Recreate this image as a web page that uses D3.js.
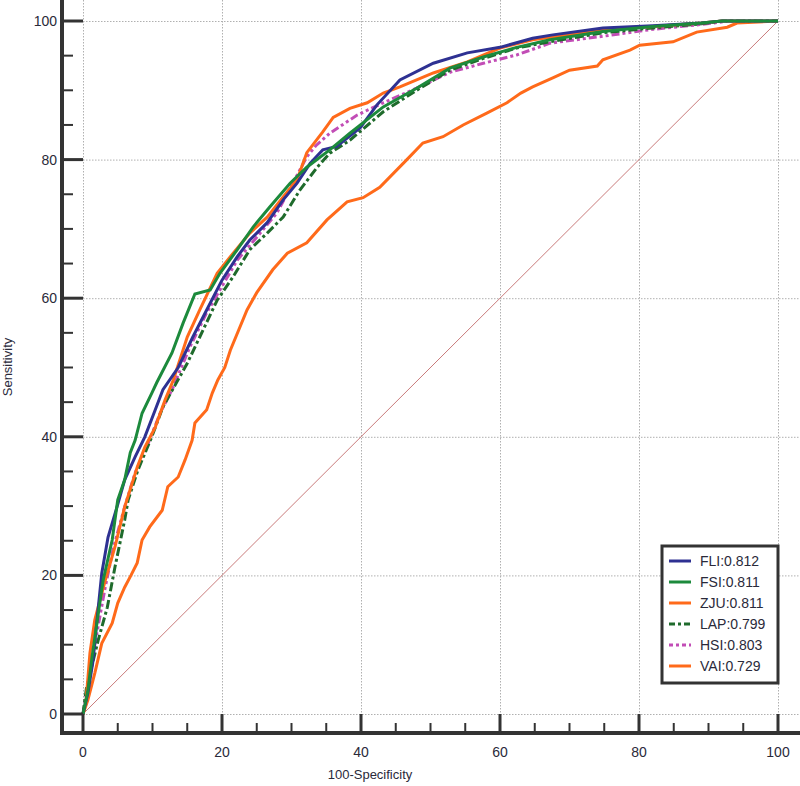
<!DOCTYPE html>
<html><head><meta charset="utf-8">
<script src="https://cdn.jsdelivr.net/npm/d3@7/dist/d3.min.js"></script>
<style>body{margin:0;background:#fff}svg{display:block}text{font-family:"Liberation Sans",Arial,sans-serif}</style>
</head><body><svg id="c" width="800" height="786"></svg>
<script>
const seriesNames = ["FLI:0.812","FSI:0.811","ZJU:0.811","LAP:0.799","HSI:0.803","VAI:0.729"];
const seriesColors = ["#2e3192","#1c8a3c","#ff6a1a","#1f6b2c","#c24db6","#ff6a1a"];
const seriesDash = [null,null,null,"9,3,3,3","8,3,3,3,3,3",null];

const fliX=[0,0.7,1.4,2.2,2.7,3.6,4.9,6,7.5,8.9,10.4,11.5,13.7,15.8,18,20,22.2,24,26.5,28.8,30.8,32.7,34.5,36.5,39.9,42.3,45.6,50.4,55.3,60,64.7,67.6,74.8,82,89,92,100];
const fliY=[0,3,7.4,15.4,20.3,25.5,29.9,33.8,37.1,40,43.9,46.8,50,54.4,58.7,62.6,66,68.4,70.9,74.2,76.6,79.5,81.4,81.9,84.6,87.9,91.5,93.9,95.4,96.2,97.5,98,99,99.3,99.7,100,100];

const fsiX=[0,0.7,1.3,2.2,2.9,4.2,5,6,6.8,7.5,8.5,9.9,10.6,12.8,14.4,16.1,18.3,19.7,22.2,24.5,26.9,29.8,32.2,35.5,38.4,43.2,48,52.8,57.6,62.4,67.2,74.8,82,89,92,100];
const fsiY=[0,3.4,8.2,14.5,19.3,25.1,30.9,33.8,37.7,39.5,43.4,46.3,47.8,52.1,56.4,60.6,61.2,63.6,67,70.3,73.2,76.6,78.9,81.4,83.8,87.6,90.3,93.2,94.8,96.2,97.3,98.5,99.2,99.7,100,100];

const zjuX=[0,0.4,1,1.7,3.2,4.6,6,7.8,8.9,10.4,11.8,13,15,16.8,19.3,21.2,24,26.5,28.8,30.8,32.2,34.5,36,38.4,40.9,43.2,45.6,50.4,55.3,60,64.7,67.6,74.8,82,89,92,100];
const zjuY=[0,1.4,8.8,13.6,19.3,24.1,29.9,35.6,38.5,41.4,45.3,48.2,54.4,58.3,63.6,66,69.4,71.7,74.6,77.1,81,84,86.1,87.4,88.2,89.6,90.5,92.5,94.1,96.1,97.3,97.7,98.7,99.2,99.7,100,100];

const lapX=[0,0.5,2.2,3.5,4.6,6,6.5,7.9,9.9,11.5,13,15,16.8,19.3,21.6,24,26.5,28.8,31.2,33.7,35.5,38.4,43.2,48,52.8,57.6,62.4,67.2,74.8,82,89,92,100];
const lapY=[0,3.8,10.7,15.4,21.2,28,30.9,35.2,40,44.3,47,50.6,54.4,59.7,63.1,67,69.4,71.7,75.6,78.9,80.9,82.8,86.9,90,92.9,94.6,96.1,97,98.3,99,99.6,100,100];

const hsiX=[0,0.7,2,3.2,4.4,6,7.5,9.4,11.1,12.9,15.4,17.8,19.7,22.2,25,27.9,30.2,32.2,33.5,35.5,39.4,43.2,48,52.8,57.6,62.4,67.2,74.8,82,89,93,100];
const hsiY=[0,4.3,11.7,18.3,24.1,29.9,34.8,39.1,43.4,47,53,57.9,61.2,65.5,68.8,72.3,76.6,80.4,82,83.8,86.4,88.2,90.3,92.6,93.9,95.1,96.8,97.8,98.8,99.5,100,100];

const vaiX=[0,0.7,1.7,2.7,4.2,5,6,6.9,7.8,8.5,9.6,11.4,12.2,13.7,14.7,15.7,16.1,17.8,18.6,19.4,20.4,21.2,23.6,25,27.3,29.4,32.2,35.1,38,40.3,42.7,46.6,48.9,51.8,54.7,58.1,61,63,64.7,67.6,70,74,74.8,78.7,80.1,84.9,88.3,92.7,94.1,100];
const vaiY=[0,2,5.9,10.2,13.1,16,18.3,20,21.8,25.1,27,29.4,32.8,34.2,36.7,39.5,42,43.9,46.3,48.2,50,52.5,58.3,60.8,64.1,66.5,68,71.3,73.9,74.5,76,80,82.4,83.3,85,86.7,88.2,89.6,90.5,91.8,92.9,93.5,94.4,95.8,96.5,97,98.4,99.1,99.7,100];

const seriesX=[fliX,fsiX,zjuX,lapX,hsiX,vaiX];
const seriesY=[fliY,fsiY,zjuY,lapY,hsiY,vaiY];
const majorTicks=[0,20,40,60,80,100];
const minorTicks=d3.range(0,101,5).filter(v=>v%20!==0);

const svg=d3.select("#c");
const x=d3.scaleLinear().domain([0,100]).range([83,778]);
const y=d3.scaleLinear().domain([0,100]).range([714,21]);
const axisX=62, axisY=733;

// grid
const grid=svg.append("g").attr("stroke","#b0b0b0").attr("stroke-width",1).attr("stroke-dasharray","1.5,1.5");
majorTicks.forEach(t=>{
  grid.append("line").attr("x1",x(t)+0.5).attr("x2",x(t)+0.5).attr("y1",0).attr("y2",y(0));
  grid.append("line").attr("x1",x(0)).attr("x2",800).attr("y1",y(t)+0.5).attr("y2",y(t)+0.5);
});

// diagonal
svg.append("line").attr("x1",x(0)).attr("y1",y(0)).attr("x2",x(100)).attr("y2",y(100))
  .attr("stroke","#c97b7b").attr("stroke-width",1);

// curves
const line=d3.line().x(d=>x(d[0])).y(d=>y(d[1]));
[5,4,3,2,0,1].forEach(i=>{
  const pts=seriesX[i].map((v,j)=>[v,seriesY[i][j]]);
  const p=svg.append("path").attr("d",line(pts)).attr("fill","none")
    .attr("stroke",seriesColors[i]).attr("stroke-width",3).attr("stroke-linejoin","miter");
  if(seriesDash[i]) p.attr("stroke-dasharray",seriesDash[i]);
});

// axes
const ax=svg.append("g").attr("stroke","#333");
ax.append("line").attr("x1",axisX).attr("x2",axisX).attr("y1",0).attr("y2",axisY+2).attr("stroke-width",4);
ax.append("line").attr("x1",axisX-2).attr("x2",800).attr("y1",axisY).attr("y2",axisY).attr("stroke-width",4);
majorTicks.forEach(t=>{
  ax.append("line").attr("x1",axisX).attr("x2",x(0)).attr("y1",y(t)).attr("y2",y(t)).attr("stroke-width",3);
  ax.append("line").attr("x1",x(t)).attr("x2",x(t)).attr("y1",axisY).attr("y2",y(0)).attr("stroke-width",3);
});
minorTicks.forEach(t=>{
  ax.append("line").attr("x1",axisX).attr("x2",axisX+11).attr("y1",y(t)).attr("y2",y(t)).attr("stroke-width",2);
  ax.append("line").attr("x1",x(t)).attr("x2",x(t)).attr("y1",axisY).attr("y2",axisY-10).attr("stroke-width",2);
});
const lab=svg.append("g").attr("fill","#2a2a3a").attr("font-size",14);
majorTicks.forEach(t=>{
  lab.append("text").attr("x",57).attr("y",y(t)+5).attr("text-anchor","end").text(t);
  lab.append("text").attr("x",x(t)).attr("y",757).attr("text-anchor","middle").text(t);
});
lab.append("text").attr("x",370).attr("y",779).attr("text-anchor","middle").attr("font-size",13).text("100-Specificity");
lab.append("text").attr("transform","translate(12,367) rotate(-90)").attr("text-anchor","middle").attr("font-size",13).text("Sensitivity");

// legend
const lg=svg.append("g");
lg.append("rect").attr("x",662).attr("y",546).attr("width",116).attr("height",137)
  .attr("fill","#fff").attr("stroke","#333").attr("stroke-width",3);
seriesNames.forEach((n,i)=>{
  const yy=561+i*21;
  const l=lg.append("line").attr("x1",669).attr("x2",691).attr("y1",yy).attr("y2",yy)
    .attr("stroke",seriesColors[i]).attr("stroke-width",3);
  if(seriesDash[i]) l.attr("stroke-dasharray",i===3?"6,3,3,3":"4,3,3,3");
  lg.append("text").attr("x",700).attr("y",yy+5).attr("font-size",14).attr("fill","#2a2a3a").text(n);
});
</script></body></html>
